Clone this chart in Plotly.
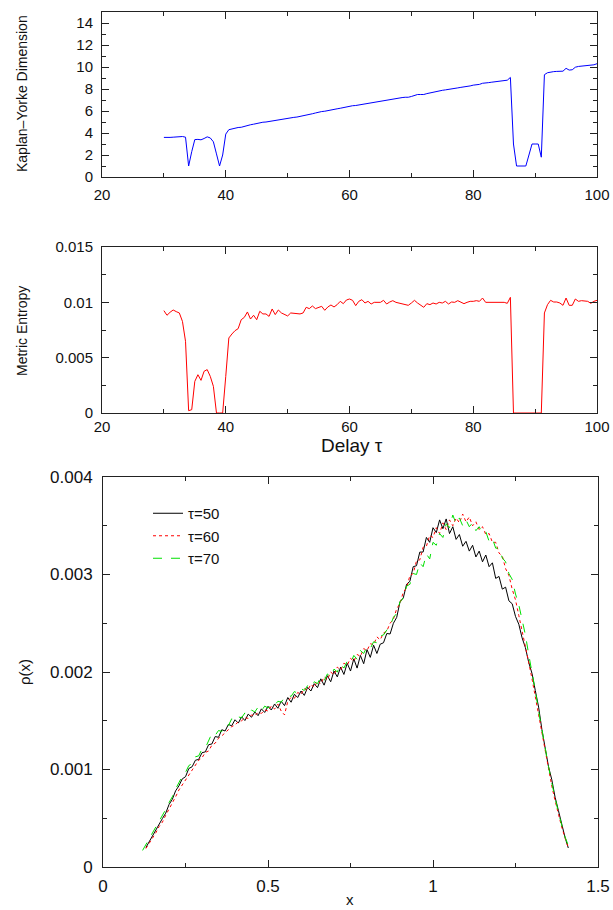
import plotly.graph_objects as go

# ---------------- data ----------------
# Panel 1: Kaplan-Yorke dimension vs delay
ky_delay = [30 + 0.5 * i for i in range(141)]
ky_dim = [3.60, 3.58, 3.60, 3.62, 3.63, 3.66, 3.68, 3.62, 1.00, 2.30,
          3.40, 3.42, 3.38, 3.50, 3.65, 3.55, 3.20, 2.10, 1.00, 2.00,
          3.90, 4.30, 4.38, 4.42, 4.50, 4.52, 4.62, 4.70, 4.75, 4.80,
          4.88, 4.92, 4.98, 5.00, 5.05, 5.10, 5.18, 5.22, 5.25, 5.30,
          5.35, 5.38, 5.42, 5.45, 5.50, 5.55, 5.62, 5.70, 5.75, 5.82,
          5.90, 5.95, 5.98, 6.05, 6.10, 6.15, 6.20, 6.25, 6.32, 6.38,
          6.45, 6.48, 6.50, 6.55, 6.60, 6.65, 6.72, 6.78, 6.82, 6.85,
          6.90, 6.95, 7.00, 7.05, 7.10, 7.15, 7.18, 7.22, 7.25, 7.25,
          7.32, 7.42, 7.50, 7.50, 7.50, 7.58, 7.65, 7.70, 7.75, 7.82,
          7.88, 7.92, 7.95, 8.02, 8.05, 8.10, 8.15, 8.18, 8.22, 8.28,
          8.35, 8.38, 8.42, 8.52, 8.52, 8.58, 8.62, 8.66, 8.70, 8.75,
          8.80, 8.80, 9.05, 3.00, 1.00, 1.00, 1.00, 1.00, 2.00, 3.00,
          3.00, 3.00, 1.80, 9.30, 9.48, 9.55, 9.58, 9.60, 9.62, 9.62,
          9.88, 9.72, 9.75, 9.98, 10.05, 10.08, 10.10, 10.10, 10.12, 10.20,
          10.30]

# Panel 2: metric entropy vs delay
me_delay = [30 + 0.5 * i for i in range(141)]
me_val = [0.00925, 0.00883, 0.00910, 0.00931, 0.00916, 0.00904, 0.00828, 0.00648, 0.00021, 0.00030,
          0.00286, 0.00346, 0.00295, 0.00377, 0.00392, 0.00331, 0.00241, 0.0, 0.0, 0.0,
          0.00331, 0.00678, 0.00714, 0.00744, 0.00762, 0.00843, 0.00864, 0.00913, 0.00849, 0.00883,
          0.00843, 0.00919, 0.00895, 0.00895, 0.00873, 0.00940, 0.00889, 0.00931, 0.00904, 0.00889,
          0.00877, 0.00904, 0.00901, 0.00898, 0.00895, 0.00904, 0.00955, 0.00943, 0.00967, 0.00943,
          0.00955, 0.00964, 0.00928, 0.00958, 0.00976, 0.00958, 0.00979, 0.01009, 0.00988, 0.01021,
          0.01030, 0.01018, 0.00970, 0.01009, 0.01024, 0.00994, 0.01009, 0.00985, 0.01000, 0.01003,
          0.01000, 0.01018, 0.00985, 0.01003, 0.01015, 0.01000, 0.00994, 0.00988, 0.00982, 0.00973,
          0.00994, 0.01018, 0.00994, 0.00973, 0.00955, 0.00988, 0.00979, 0.00994, 0.00985, 0.01000,
          0.00994, 0.01009, 0.00985, 0.01003, 0.01000, 0.01015, 0.01000, 0.00988, 0.01000, 0.01009,
          0.01009, 0.01015, 0.01009, 0.01039, 0.01000, 0.01000, 0.01003, 0.01000, 0.01000, 0.01006,
          0.01000, 0.00991, 0.01045, 0.0, 0.0, 0.0, 0.0, 0.0, 0.0, 0.0,
          0.0, 0.0, 0.0, 0.00904, 0.00979, 0.01018, 0.01003, 0.01003, 0.00994, 0.00973,
          0.01039, 0.00973, 0.00973, 0.01030, 0.01009, 0.01015, 0.01015, 0.01009, 0.00991, 0.01009,
          0.01018]

# Panel 3: invariant density rho(x), values in units of 1e-6
x_50 = [round(0.13 + 0.01 * i, 2) for i in range(129)]
rho_50 = [200, 262, 318, 385, 436, 497, 552, 640, 694, 781,
          832, 903, 926, 1010, 1028, 1095, 1104, 1172, 1181, 1254,
          1262, 1338, 1330, 1408, 1395, 1462, 1448, 1510, 1476, 1540,
          1502, 1568, 1536, 1590, 1552, 1622, 1585, 1648, 1610, 1672,
          1628, 1700, 1655, 1738, 1690, 1772, 1738, 1805, 1760, 1842,
          1805, 1880, 1840, 1930, 1865, 1962, 1900, 2010, 1950, 2050,
          1975, 2090, 2010, 2135, 2040, 2170, 2085, 2230, 2150, 2275,
          2190, 2285, 2300, 2395, 2390, 2500, 2560, 2720, 2760, 2900,
          2930, 3080, 3090, 3230, 3230, 3380, 3330, 3480, 3430, 3560,
          3470, 3570, 3420, 3490, 3360, 3410, 3290, 3340, 3240, 3300,
          3180, 3240, 3130, 3200, 3080, 3120, 2960, 2980, 2850, 2870,
          2730, 2700, 2570, 2490, 2350, 2250, 2100, 1985, 1810, 1640,
          1410, 1230, 1030, 895, 715, 580, 425, 305, 195]

x_60 = [round(0.13 + 0.01 * i, 2) for i in range(129)]
rho_60 = [190, 240, 300, 350, 415, 460, 530, 590, 665, 720,
          790, 840, 900, 945, 1000, 1040, 1095, 1120, 1175, 1190,
          1250, 1270, 1320, 1345, 1380, 1405, 1440, 1455, 1490, 1500,
          1530, 1525, 1560, 1550, 1585, 1575, 1610, 1600, 1650, 1620,
          1670, 1600, 1560, 1700, 1740, 1730, 1790, 1770, 1830, 1810,
          1875, 1840, 1910, 1880, 1950, 1920, 2000, 1970, 2050, 2020,
          2090, 2070, 2140, 2110, 2180, 2160, 2240, 2220, 2290, 2280,
          2360, 2330, 2400, 2420, 2500, 2540, 2650, 2700, 2820, 2860,
          2990, 3010, 3140, 3150, 3280, 3290, 3400, 3380, 3480, 3420,
          3530, 3460, 3560, 3500, 3580, 3530, 3620, 3540, 3590, 3500,
          3540, 3460, 3490, 3410, 3420, 3330, 3330, 3220, 3190, 3060,
          2990, 2850, 2740, 2580, 2430, 2280, 2100, 1930, 1740, 1560,
          1360, 1170, 990, 830, 680, 540, 410, 300, 200]

x_70 = [round(0.12 + 0.01 * i, 2) for i in range(131)]
rho_70 = [170, 230, 280, 345, 395, 460, 520, 590, 660, 720,
          800, 860, 930, 970, 1040, 1060, 1130, 1140, 1210, 1220,
          1290, 1370, 1350, 1400, 1390, 1460, 1450, 1520, 1500, 1540,
          1530, 1580, 1560, 1610, 1590, 1640, 1600, 1650, 1630, 1670,
          1660, 1700, 1690, 1740, 1760, 1750, 1800, 1780, 1830, 1810,
          1860, 1840, 1900, 1880, 1950, 1910, 1980, 1950, 2030, 2000,
          2080, 2040, 2110, 2090, 2170, 2130, 2220, 2190, 2260, 2240,
          2310, 2300, 2370, 2380, 2430, 2470, 2560, 2600, 2720, 2760,
          2880, 2900, 3010, 3000, 3120, 3080, 3210, 3160, 3330, 3300,
          3420, 3380, 3520, 3480, 3610, 3520, 3580, 3500, 3560, 3490,
          3530, 3450, 3490, 3420, 3440, 3340, 3370, 3270, 3270, 3170,
          3130, 3010, 2950, 2800, 2690, 2530, 2380, 2180, 2010, 1810,
          1600, 1400, 1200, 1030, 860, 700, 560, 430, 310, 220,
          160]

ky_yticks = [0, 2, 4, 6, 8, 10, 12, 14]
delay_ticks = [20, 40, 60, 80, 100]
me_yticks = [0, 0.005, 0.01, 0.015]
me_ytext = ["0", "0.005", "0.01", "0.015"]
rho_xticks = [0, 0.5, 1, 1.5]
rho_xtext = ["0", "0.5", "1", "1.5"]
rho_yticks = [0, 0.001, 0.002, 0.003, 0.004]
rho_ytext = ["0", "0.001", "0.002", "0.003", "0.004"]

# ---------------- figure ----------------
W, H = 613, 910
FONT = "Liberation Sans, Arial, Helvetica, sans-serif"

fig = go.Figure()
fig.add_trace(go.Scatter(x=ky_delay, y=ky_dim, mode="lines", xaxis="x", yaxis="y",
                         line=dict(color="#0000ff", width=1), showlegend=False))
fig.add_trace(go.Scatter(x=me_delay, y=me_val, mode="lines", xaxis="x2", yaxis="y2",
                         line=dict(color="#ff0000", width=1), showlegend=False))
fig.add_trace(go.Scatter(x=x_50, y=[v * 1e-6 for v in rho_50], mode="lines", xaxis="x3", yaxis="y3",
                         name="τ=50", line=dict(color="#000000", width=1)))
fig.add_trace(go.Scatter(x=x_60, y=[v * 1e-6 for v in rho_60], mode="lines", xaxis="x3", yaxis="y3",
                         name="τ=60", line=dict(color="#ff0000", width=1, dash="dot")))
fig.add_trace(go.Scatter(x=x_70, y=[v * 1e-6 for v in rho_70], mode="lines", xaxis="x3", yaxis="y3",
                         name="τ=70", line=dict(color="#00e000", width=1, dash="dash")))


def px_x(p):
    return p / W


def px_y(p):
    return 1 - p / H


xdom = [px_x(102), px_x(597)]
xdom3 = [px_x(103), px_x(598)]


def axis(dom, anchor, rng, tickvals, ticktext, minor_dtick, fsize, standoff):
    return dict(domain=dom, anchor=anchor, range=rng, tickmode="array",
                tickvals=tickvals, ticktext=ticktext, showgrid=False, zeroline=False,
                automargin=False,
                showline=True, linecolor="#222222", linewidth=1, mirror="allticks",
                ticks="inside", ticklen=7, tickwidth=1, tickcolor="#222222",
                minor=dict(ticks="inside", ticklen=4, tickwidth=1, tickcolor="#222222",
                           dtick=minor_dtick, showgrid=False),
                tickfont=dict(family=FONT, size=fsize, color="#111111"),
                ticklabelstandoff=standoff)


fig.update_layout(
    width=W, height=H, margin=dict(l=0, r=0, t=0, b=0, pad=0, autoexpand=False),
    paper_bgcolor="white", plot_bgcolor="white",
    font=dict(family=FONT, color="#111111"),
    xaxis=axis(xdom, "y", [20, 100], delay_ticks, [str(t) for t in delay_ticks], 10, 15, 4),
    yaxis=axis([px_y(177), px_y(12)], "x", [0, 15], ky_yticks, [str(t) for t in ky_yticks], 1, 15, 5),
    xaxis2=axis(xdom, "y2", [20, 100], delay_ticks, [str(t) for t in delay_ticks], 10, 15, 0),
    yaxis2=axis([px_y(413), px_y(247)], "x2", [0, 0.015], me_yticks, me_ytext, 0.0025, 15, 5),
    xaxis3=axis(xdom3, "y3", [0, 1.5], rho_xticks, rho_xtext, 0.25, 17, 4),
    yaxis3=axis([px_y(867), px_y(477)], "x3", [0, 0.004], rho_yticks, rho_ytext, 0.0005, 17, 6),
    legend=dict(x=px_x(148), y=px_y(497), xanchor="left", yanchor="top",
                bgcolor="rgba(0,0,0,0)", borderwidth=0,
                font=dict(family=FONT, size=15, color="#111111"), tracegroupgap=0),
    annotations=[
        dict(text="Kaplan–Yorke Dimension", xref="paper", yref="paper", x=px_x(22), y=px_y(94),
             textangle=-90, showarrow=False, xanchor="center", yanchor="middle",
             font=dict(family=FONT, size=14, color="#111111")),
        dict(text="Metric Entropy", xref="paper", yref="paper", x=px_x(22), y=px_y(331),
             textangle=-90, showarrow=False, xanchor="center", yanchor="middle",
             font=dict(family=FONT, size=14, color="#111111")),
        dict(text="Delay τ", xref="paper", yref="paper", x=px_x(352), y=px_y(445),
             showarrow=False, xanchor="center", yanchor="middle",
             font=dict(family=FONT, size=19, color="#111111")),
        dict(text="ρ(x)", xref="paper", yref="paper", x=px_x(24), y=px_y(672),
             textangle=-90, showarrow=False, xanchor="center", yanchor="middle",
             font=dict(family=FONT, size=15, color="#111111")),
        dict(text="x", xref="paper", yref="paper", x=px_x(350), y=px_y(899),
             showarrow=False, xanchor="center", yanchor="middle",
             font=dict(family=FONT, size=15, color="#111111")),
    ],
)

fig.write_html("out.html")
